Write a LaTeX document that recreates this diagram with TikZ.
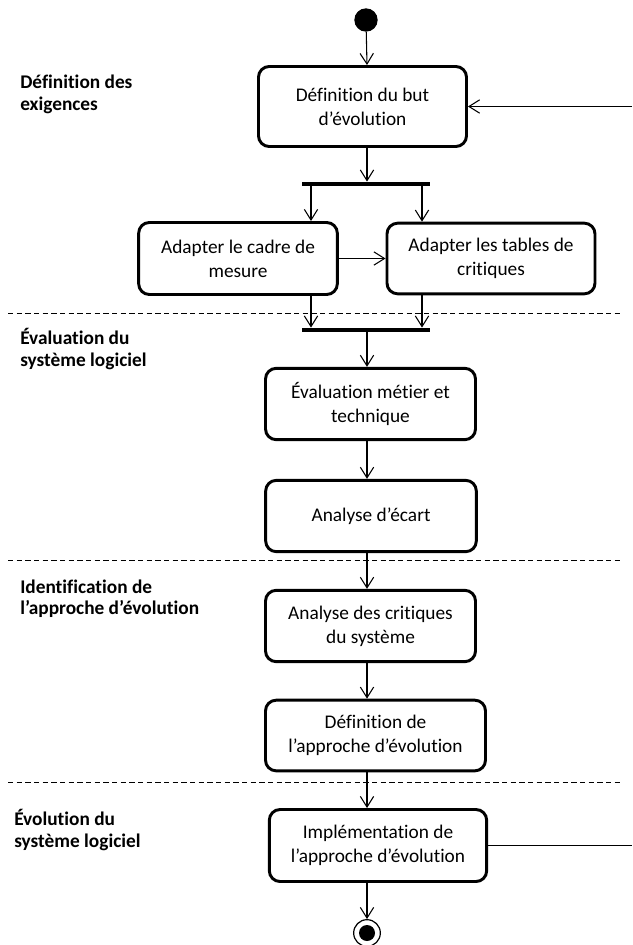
\documentclass[tikz,border=0pt]{standalone}
\usepackage{fontspec}
\setmainfont{Carlito}[RawFeature=-liga]
\usetikzlibrary{arrows.meta}
\begin{document}
\begin{tikzpicture}[x=0.75pt,y=-0.75pt,
  activity/.style={draw,line width=2.2pt,rounded corners=8pt,align=center,
    inner sep=0pt,font=\fontsize{14.5}{18}\selectfont},
  phase/.style={anchor=west,align=left,inner sep=0pt,
    font=\fontsize{14.5}{16}\selectfont\bfseries},
  flow/.style={line width=0.8pt,-{Straight Barb[length=8pt,width=10pt,line width=0.8pt]}},
  plain/.style={line width=0.8pt},
  bar/.style={line width=3.6pt},
  lane/.style={line width=0.7pt,dash pattern=on 4pt off 2.5pt}]
\useasboundingbox (0,0) rectangle (632,945);

% column of the main flow and right-hand return line
\coordinate (col) at (367,0);
\coordinate (edge) at (632,0);

% lane separators
\draw[lane] (8,313) -- (623,313);
\draw[lane] (8,560) -- (623,560);
\draw[lane] (8,782) -- (623,782);

% lane titles
\node[phase] (l1) at (20,94.5) {Définition des\\exigences};
\node[phase] (l2) at (20,349) {Évaluation du\\système logiciel};
\node[phase] (l3) at (20,599) {Identification de\\l’approche d’évolution};
\node[phase] (l4) at (14,830) {Évolution du\\système logiciel};

% initial and final nodes
\node[circle,fill=black,minimum size=17.5pt,inner sep=0pt] (start) at (366,20) {};
\node[circle,draw,line width=0.9pt,minimum size=20pt,inner sep=0pt] (stop) at (367,933) {};
\fill (stop.center) circle (6pt);

% activities
\node[activity,minimum width=156pt,minimum height=60pt] (but) at (362.5,106.5) {Définition du but\\d’évolution};
\node[activity,minimum width=149pt,minimum height=54pt] (cadre) at (238,258.5) {Adapter le cadre de\\mesure};
\node[activity,minimum width=156pt,minimum height=53pt] (tables) at (491,258.5) {Adapter les tables de\\critiques};
\node[activity,minimum width=157.5pt,minimum height=53.5pt] (eval) at (370.5,404) {Évaluation métier et\\technique};
\node[activity,minimum width=158pt,minimum height=53.5pt] (ecart) at (371,516) {Analyse d’écart};
\node[activity,minimum width=157.5pt,minimum height=53.5pt] (crit) at (370.5,626) {Analyse des critiques\\du système};
\node[activity,minimum width=165pt,minimum height=53pt] (appr) at (375.5,735.5) {Définition de\\l’approche d’évolution};
\node[activity,minimum width=163pt,minimum height=54pt] (impl) at (378,845.5) {Implémentation de\\l’approche d’évolution};

% fork and join bars
\coordinate (forkL) at (302,184);
\coordinate (forkR) at (430,184);
\coordinate (joinL) at (302,330);
\coordinate (joinR) at (430,330);
\draw[bar] (forkL) -- (forkR);
\draw[bar] (joinL) -- (joinR);
\coordinate (a1) at (311,0);
\coordinate (a2) at (422,0);

% transitions
\draw[flow] (start) -- (but.north -| col);
\draw[flow] (but.south -| col) -- ([yshift=1.8pt]forkL -| col);
\draw[flow] (forkL -| a1) -- (cadre.north -| a1);
\draw[flow] (forkL -| a2) -- (tables.north -| a2);
\draw[flow] (cadre.east) -- (tables.west);
\draw[flow] (cadre.south -| a1) -- ([yshift=1.8pt]joinL -| a1);
\draw[flow] (tables.south -| a2) -- ([yshift=1.8pt]joinL -| a2);
\draw[flow] (joinL -| col) -- (eval.north -| col);
\draw[flow] (eval.south -| col) -- (ecart.north -| col);
\draw[flow] (ecart.south -| col) -- (crit.north -| col);
\draw[flow] (crit.south -| col) -- (appr.north -| col);
\draw[flow] (appr.south -| col) -- (impl.north -| col);
\draw[flow] (impl.south -| col) -- (stop.north);

% return path to the first activity (runs along the right border)
\draw[plain] (impl.east) -- (impl.east -| edge);
\draw[flow] (but.east -| edge) -- (but.east);
\end{tikzpicture}
\end{document}
